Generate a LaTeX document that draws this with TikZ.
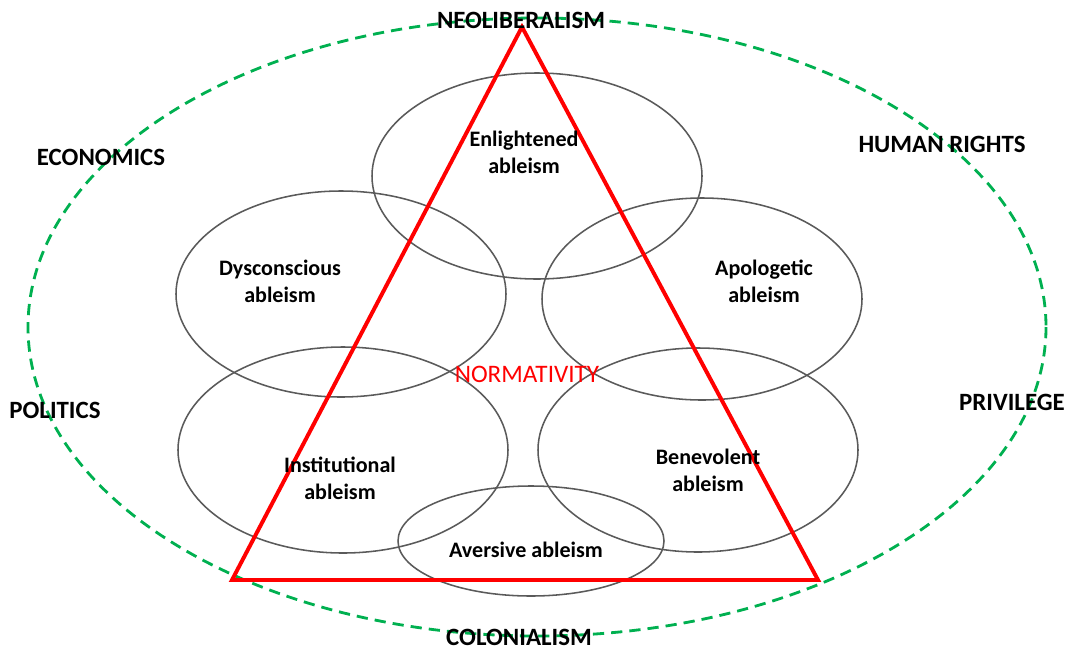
\documentclass[tikz,border=0pt]{standalone}
\usepackage{fontspec}
\setmainfont{Carlito}
\usepackage{xcolor}
\usetikzlibrary{positioning}

\definecolor{ringgreen}{RGB}{0,176,80}
\definecolor{ovalgray}{RGB}{90,90,90}

\tikzset{
  outer/.style={font=\fontsize{17.7}{21}\selectfont\bfseries, inner sep=1pt},
  kind/.style={font=\fontsize{15.7}{19}\selectfont\bfseries, align=center, inner sep=1pt},
  oval/.style={draw=ovalgray, line width=1.1pt}
}

\begin{document}
\begin{tikzpicture}[x=0.025cm, y=-0.025cm]
  \useasboundingbox (0,0) rectangle (1066,652);

  % Outer dashed ring of contexts
  \draw[ringgreen, line width=2pt, dash pattern=on 8pt off 5pt] (537,327) ellipse [x radius=509, y radius=309];

  % The six forms of ableism
  \draw[oval] (537,176) ellipse [x radius=165, y radius=103];
  \draw[oval] (341,294) ellipse [x radius=165, y radius=103];
  \draw[oval] (702,299) ellipse [x radius=160, y radius=101];
  \draw[oval] (343,450) ellipse [x radius=165, y radius=103];
  \draw[oval] (698,450) ellipse [x radius=160, y radius=102];
  \draw[oval] (531,541) ellipse [x radius=133, y radius=55];

  % Triangle of normativity
  \coordinate (top) at (522,27);
  \coordinate (left) at (232,580);
  \coordinate (right) at (818,580);
  \draw[red, line width=2.8pt, line join=miter] (top) -- (left) -- (right) -- cycle;

  \node[outer] (neo) at (521,20) {NEOLIBERALISM};
  \node[outer] (eco) at (101,157) {ECONOMICS};
  \node[outer] (hum) at (942,144) {HUMAN RIGHTS};
  \node[outer] (pol) at (55,410) {POLITICS};
  \node[outer] (pri) at (1012,402) {PRIVILEGE};
  \node[outer] (col) at (519,637) {COLONIALISM};

  \node[font=\fontsize{17.9}{21}\selectfont, text=red, inner sep=1pt] (norm) at (527,374) {NORMATIVITY};

  \node[kind] (enl) at (524,152) {Enlightened\\ableism};
  \node[kind] (dys) at (280,281) {Dysconscious\\ableism};
  \node[kind] (apo) at (764,281) {Apologetic\\ableism};
  \node[kind] (ins) at (340,478) {Institutional\\ableism};
  \node[kind] (ben) at (708,470) {Benevolent\\ableism};
  \node[kind] (ave) at (526,550) {Aversive ableism};
\end{tikzpicture}
\end{document}
